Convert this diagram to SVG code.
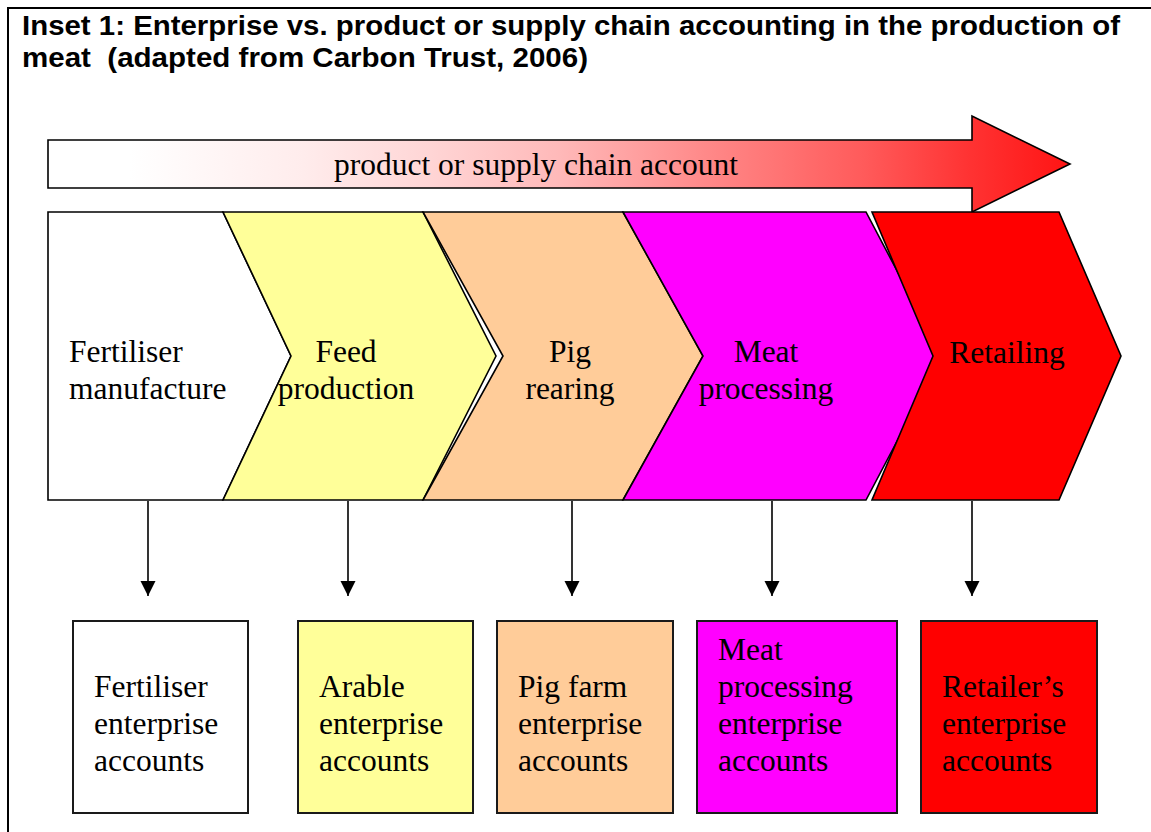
<svg xmlns="http://www.w3.org/2000/svg" width="1151" height="832" viewBox="0 0 1151 832">
  <defs>
    <linearGradient id="chainFill" x1="0" y1="0" x2="1" y2="0">
      <stop offset="0" stop-color="#ffffff"/>
      <stop offset="0.08" stop-color="#ffffff"/>
      <stop offset="0.25" stop-color="#ffecec"/>
      <stop offset="0.37" stop-color="#ffd6d6"/>
      <stop offset="0.5" stop-color="#ffb9b9"/>
      <stop offset="0.64" stop-color="#ff8a8a"/>
      <stop offset="0.8" stop-color="#ff5a5a"/>
      <stop offset="0.9" stop-color="#ff3333"/>
      <stop offset="1" stop-color="#ff1414"/>
    </linearGradient>
    <marker id="head" markerUnits="userSpaceOnUse" markerWidth="16" markerHeight="16" viewBox="0 0 16 16" refX="15" refY="8" orient="auto">
      <path d="M0,0.5 L15,8 L0,15.5 z" fill="#000"/>
    </marker>
  </defs>
  <style>
    .title { font-family: "Liberation Sans", Arial, sans-serif; font-weight: bold; font-size: 28px; fill: #000; }
    .lbl { font-family: "Liberation Serif", "Times New Roman", serif; font-size: 31.5px; fill: #000; }
    .mid { text-anchor: middle; }
    .shape { stroke: #000; stroke-width: 1.6; stroke-linejoin: miter; }
    .box { stroke: #1a1a1a; stroke-width: 2; }
    .link { stroke: #000; stroke-width: 1.6; fill: none; }
  </style>

  <!-- frame -->
  <rect x="0" y="0" width="1151" height="832" fill="#fff"/>
  <rect x="8" y="8" width="1200" height="900" fill="none" stroke="#000" stroke-width="2"/>

  <!-- heading -->
  <g id="heading">
    <text class="title" x="22" y="35" textLength="1098" lengthAdjust="spacingAndGlyphs">Inset 1: Enterprise vs. product or supply chain accounting in the production of</text>
    <text class="title" x="22" y="67" textLength="566" lengthAdjust="spacingAndGlyphs" xml:space="preserve">meat  (adapted from Carbon Trust, 2006)</text>
  </g>

  <!-- overall chain arrow -->
  <g id="chain-account">
    <polygon class="shape" fill="url(#chainFill)" points="48,140 972,140 972,116 1070,164 972,212 972,188 48,188"/>
    <text class="lbl mid" x="536" y="175">product or supply chain account</text>
  </g>

  <!-- stages -->
  <g id="stage-fertiliser">
    <polygon class="shape" fill="#ffffff" points="48,212 223,212 291,356 223,500 48,500"/>
    <text class="lbl" x="69" y="362">Fertiliser</text>
    <text class="lbl" x="69" y="399">manufacture</text>
  </g>
  <g id="stage-feed">
    <polygon class="shape" fill="#ffff99" points="223,212 423,212 496,356 423,500 223,500 291,356"/>
    <text class="lbl mid" x="346" y="362">Feed</text>
    <text class="lbl mid" x="346" y="399">production</text>
  </g>
  <g id="stage-pig">
    <polygon class="shape" fill="#ffcc99" points="423,212 623,212 703,356 623,500 423,500 503,356"/>
    <text class="lbl mid" x="570" y="362">Pig</text>
    <text class="lbl mid" x="570" y="399">rearing</text>
  </g>
  <g id="stage-meat">
    <polygon class="shape" fill="#ff00ff" points="623,212 866,212 942,356 866,500 623,500 703,356"/>
    <text class="lbl mid" x="766" y="362">Meat</text>
    <text class="lbl mid" x="766" y="399">processing</text>
  </g>
  <g id="stage-retail">
    <polygon class="shape" fill="#ff0000" points="872,212 1059,212 1121,356 1059,500 872,500 933,356"/>
    <text class="lbl mid" x="1007" y="363">Retailing</text>
  </g>

  <!-- connectors from stages down to enterprise accounts -->
  <g id="connectors">
    <line class="link" x1="148" y1="501" x2="148" y2="596" marker-end="url(#head)"/>
    <line class="link" x1="348" y1="501" x2="348" y2="596" marker-end="url(#head)"/>
    <line class="link" x1="572" y1="501" x2="572" y2="596" marker-end="url(#head)"/>
    <line class="link" x1="772" y1="501" x2="772" y2="596" marker-end="url(#head)"/>
    <line class="link" x1="972" y1="501" x2="972" y2="596" marker-end="url(#head)"/>
  </g>

  <!-- enterprise accounts -->
  <g id="acct-fertiliser">
    <rect class="box" x="73" y="621" width="175" height="192" fill="#ffffff"/>
    <text class="lbl" x="94" y="697">Fertiliser</text>
    <text class="lbl" x="94" y="734">enterprise</text>
    <text class="lbl" x="94" y="771">accounts</text>
  </g>
  <g id="acct-arable">
    <rect class="box" x="298" y="621" width="175" height="192" fill="#ffff99"/>
    <text class="lbl" x="319" y="697">Arable</text>
    <text class="lbl" x="319" y="734">enterprise</text>
    <text class="lbl" x="319" y="771">accounts</text>
  </g>
  <g id="acct-pigfarm">
    <rect class="box" x="497" y="621" width="176" height="192" fill="#ffcc99"/>
    <text class="lbl" x="518" y="697">Pig farm</text>
    <text class="lbl" x="518" y="734">enterprise</text>
    <text class="lbl" x="518" y="771">accounts</text>
  </g>
  <g id="acct-meat">
    <rect class="box" x="697" y="621" width="200" height="192" fill="#ff00ff"/>
    <text class="lbl" x="718" y="660">Meat</text>
    <text class="lbl" x="718" y="697">processing</text>
    <text class="lbl" x="718" y="734">enterprise</text>
    <text class="lbl" x="718" y="771">accounts</text>
  </g>
  <g id="acct-retailer">
    <rect class="box" x="921" y="621" width="176" height="192" fill="#ff0000"/>
    <text class="lbl" x="942" y="697">Retailer’s</text>
    <text class="lbl" x="942" y="734">enterprise</text>
    <text class="lbl" x="942" y="771">accounts</text>
  </g>
</svg>
